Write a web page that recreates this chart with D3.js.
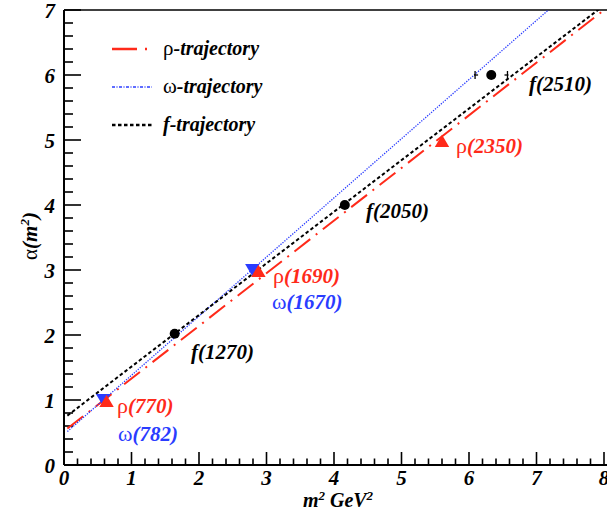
<!DOCTYPE html>
<html><head><meta charset="utf-8">
<script src="https://cdn.jsdelivr.net/npm/d3@7"></script>
<style>
body{margin:0;background:#fff;}
text{font-family:"Liberation Serif","Times New Roman",serif;font-weight:bold;font-style:italic;}
</style></head>
<body><svg id="c" width="607" height="513"></svg>
<script>
// ---- data ----
const xTicks = [0,1,2,3,4,5,6,7,8];
const yTicks = [0,1,2,3,4,5,6,7];
// trajectories: alpha = a0 + a1*m^2
const trajNames = ["ρ-trajectory","ω-trajectory","f-trajectory"];
const trajIntercept = [0.52, 0.47, 0.72];
const trajSlope = [0.81, 0.91, 0.794];
const trajColors = ["#ff2a1a","#2a3cff","#000000"];
// resonances
const rhoNames = ["ρ(770)","ρ(1690)","ρ(2350)"];
const rhoM2 = [0.63, 2.88, 5.6];
const rhoAlpha = [0.97, 2.97, 4.97];
const omegaNames = ["ω(782)","ω(1670)"];
const omegaM2 = [0.58, 2.79];
const omegaAlpha = [1.03, 3.03];
const fNames = ["f(1270)","f(2050)","f(2510)"];
const fM2 = [1.64, 4.16, 6.33];
const fAlpha = [2.02, 4.0, 6.0];
const fErr = [0, 0, 0.24];

const svg = d3.select("#c");
const L=64, R=604, T=10, B=465;
const x = d3.scaleLinear().domain([0,8]).range([L,R]);
const y = d3.scaleLinear().domain([0,7]).range([B,T]);

svg.append("clipPath").attr("id","clip").append("rect").attr("x",L).attr("y",T).attr("width",607-L).attr("height",B-T);

// frame top
svg.append("line").attr("x1",L).attr("x2",607).attr("y1",T).attr("y2",T).attr("stroke","#000").attr("stroke-width",1.5);

// x axis
const gx = svg.append("g").attr("transform",`translate(0,${B})`);
gx.append("line").attr("x1",L).attr("x2",607).attr("y1",0).attr("y2",0).attr("stroke","#000").attr("stroke-width",2);
gx.selectAll("line.t").data(d3.range(0,41).map(i=>i*0.2)).enter().append("line")
  .attr("x1",d=>x(d)).attr("x2",d=>x(d)).attr("y1",0)
  .attr("y2",(d,i)=> i%5===0 ? -13 : -6.5).attr("stroke","#000").attr("stroke-width",1.6);
gx.selectAll("text").data(xTicks).enter().append("text")
  .attr("x",d=>x(d)).attr("y",20).attr("text-anchor","middle").attr("font-size",21).text(d=>d);

// y axis
const gy = svg.append("g");
gy.append("line").attr("x1",L).attr("x2",L).attr("y1",T).attr("y2",B).attr("stroke","#000").attr("stroke-width",2);
gy.selectAll("line.t").data(d3.range(0,36).map(i=>i*0.2)).enter().append("line")
  .attr("x1",L).attr("x2",(d,i)=> i%5===0 ? L+17 : L+9)
  .attr("y1",d=>y(d)).attr("y2",d=>y(d)).attr("stroke","#000").attr("stroke-width",1.6);
gy.selectAll("text").data(yTicks).enter().append("text")
  .attr("x",55).attr("y",d=>y(d)+8).attr("text-anchor","end").attr("font-size",21).text(d=>d);

// axis titles
svg.append("text").attr("x",338).attr("y",507).attr("text-anchor","middle").attr("font-size",20)
  .html('m<tspan font-size="13" dy="-7">2</tspan><tspan dy="7"> GeV</tspan><tspan font-size="13" dy="-7">2</tspan>');
svg.append("text").attr("transform","translate(37,236) rotate(-90)").attr("text-anchor","middle").attr("font-size",21)
  .html('<tspan font-style="normal" font-weight="normal">α</tspan>(m<tspan font-size="13" dy="-8">2</tspan><tspan dy="8">)</tspan>');

// trajectories
const dashes = ["20,7,2,7","1.3,1.3","3.5,2.5"];
const widths = [2, 1.3, 2];
const plot = svg.append("g").attr("clip-path","url(#clip)");
trajNames.forEach((n,i)=>{
  const line = d3.line().x(d=>x(d)).y(d=>y(trajIntercept[i]+trajSlope[i]*d));
  plot.append("path").attr("d",line([0.05,9])).attr("fill","none")
    .attr("stroke",trajColors[i]).attr("stroke-width",widths[i]).attr("stroke-dasharray",dashes[i]);
});

// markers
const tri = d3.symbol().type(d3.symbolTriangle).size(90);
omegaM2.forEach((m,i)=>{
  plot.append("path").attr("d",tri()).attr("fill","#2a3cff")
    .attr("transform",`translate(${x(m)},${y(omegaAlpha[i])}) rotate(180)`);
});
rhoM2.forEach((m,i)=>{
  plot.append("path").attr("d",tri()).attr("fill","#ff2a1a")
    .attr("transform",`translate(${x(m)},${y(rhoAlpha[i])+1})`);
});
fM2.forEach((m,i)=>{
  if(fErr[i]>0){
    [-1,1].forEach(s=>{
      plot.append("line").attr("x1",x(m+s*fErr[i])).attr("x2",x(m+s*fErr[i]))
        .attr("y1",y(fAlpha[i])-4).attr("y2",y(fAlpha[i])+4).attr("stroke","#000").attr("stroke-width",1.3);
    });
    plot.append("line").attr("x1",x(m+fErr[i])-3).attr("x2",x(m+fErr[i])+1)
        .attr("y1",y(fAlpha[i])).attr("y2",y(fAlpha[i])).attr("stroke","#000").attr("stroke-width",1.3);
    plot.append("line").attr("x1",x(m-fErr[i])-1).attr("x2",x(m-fErr[i])+3)
        .attr("y1",y(fAlpha[i])).attr("y2",y(fAlpha[i])).attr("stroke","#000").attr("stroke-width",1.3);
  }
  plot.append("circle").attr("cx",x(m)).attr("cy",y(fAlpha[i])).attr("r",5).attr("fill","#000");
});

// labels
function lab(txt,px,py,color,fs){
  const t = svg.append("text").attr("x",px).attr("y",py).attr("font-size",fs).attr("fill",color);
  const g = txt[0];
  if(g==="ρ"||g==="ω"){
    t.append("tspan").attr("font-style","normal").attr("font-weight","normal").attr("font-size",fs+1).text(g);
    t.append("tspan").text(txt.slice(1));
  } else t.text(txt);
  return t;
}
const rhoLab = [[117,413],[273,283],[456,153]];
const omLab = [[118,441],[272,309]];
const fLab = [[191,359],[366,218],[529,91]];
rhoNames.forEach((n,i)=>lab(n,rhoLab[i][0],rhoLab[i][1],"#ff2a1a",21));
omegaNames.forEach((n,i)=>lab(n,omLab[i][0],omLab[i][1],"#2a3cff",21));
fNames.forEach((n,i)=>lab(n,fLab[i][0],fLab[i][1],"#000",21));

// legend
const legY = [49,87,125];
trajNames.forEach((n,i)=>{
  svg.append("line").attr("x1",112).attr("x2",152).attr("y1",legY[i]).attr("y2",legY[i])
    .attr("stroke",trajColors[i]).attr("stroke-width",widths[i]+0.3)
    .attr("stroke-dasharray", i===0 ? "25,8,2,10" : (i===1 ? "3,1.5,1,1.5" : "3.5,2.5"));
  lab(n,163,legY[i]+6,"#000",20);
});
</script></body></html>
